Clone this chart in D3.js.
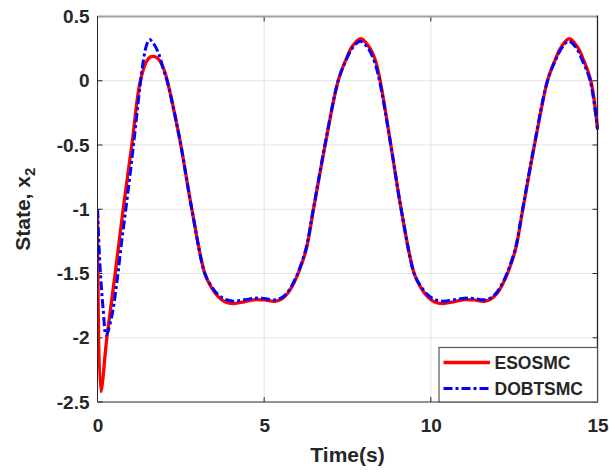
<!DOCTYPE html>
<html><head><meta charset="utf-8">
<script src="https://cdn.jsdelivr.net/npm/d3@7"></script>
<style>body{margin:0;background:#fff}svg{display:block}text{font-family:"Liberation Sans",Arial,sans-serif;font-weight:bold;fill:#262626}</style>
</head><body><svg id="c" width="611" height="475"></svg>
<script>
const xTicks = [0, 5, 10, 15];
const yTicks = [0.5, 0, -0.5, -1, -1.5, -2, -2.5];
const yTickLabels = ["0.5", "0", "-0.5", "-1", "-1.5", "-2", "-2.5"];
const seriesNames = ["ESOSMC", "DOBTSMC"];

const esoT = [0,0.1,0.28,0.53,0.77,1.03,1.27,1.47,1.58,1.68,1.78,1.88,2.03,2.13,2.3,2.5,2.83,3.22,3.42,3.62,3.82,4.08,4.4,4.73,5.0,5.33,5.52,5.72,5.88,6.02,6.26,6.48,6.83,7.22,7.45,7.65,7.9,8.13,8.33,8.48,8.8,9.11,9.5,9.7,9.9,10.1,10.36,10.68,11.01,11.28,11.61,11.8,12.0,12.16,12.30,12.54,12.76,13.11,13.5,13.73,13.93,14.15,14.38,14.58,14.8,15.0];
const esoV = [-1.0,-2.42,-2.0,-1.5,-1.0,-0.5,-0.02,0.15,0.185,0.19,0.18,0.15,0.06,-0.04,-0.24,-0.5,-1.0,-1.5,-1.61,-1.68,-1.72,-1.734,-1.72,-1.703,-1.706,-1.716,-1.70,-1.65,-1.58,-1.5,-1.314,-1.0,-0.5,0.0,0.163,0.27,0.327,0.27,0.163,0.0,-0.5,-1.0,-1.5,-1.61,-1.68,-1.72,-1.734,-1.72,-1.703,-1.706,-1.716,-1.70,-1.65,-1.58,-1.5,-1.314,-1.0,-0.5,0.0,0.163,0.27,0.327,0.27,0.163,0.0,-0.37];

const dobT = [0,0.075,0.17,0.26,0.43,0.58,0.73,0.85,1.08,1.275,1.38,1.46,1.56,1.68,1.83,1.98,2.1,2.3,2.5,2.83,3.22,3.42,3.62,3.82,4.08,4.4,4.73,5.0,5.33,5.52,5.72,5.88,6.02,6.26,6.48,6.83,7.22,7.45,7.65,7.88,8.1,8.3,8.46,8.8,9.11,9.5,9.7,9.9,10.1,10.36,10.68,11.01,11.28,11.61,11.8,12.0,12.16,12.30,12.54,12.76,13.11,13.5,13.73,13.93,14.13,14.35,14.55,14.78,15.0];
const dobV = [-1.0,-1.44,-1.78,-1.98,-1.83,-1.57,-1.24,-1.0,-0.5,-0.04,0.163,0.267,0.32,0.29,0.215,0.086,-0.01,-0.24,-0.5,-1.0,-1.5,-1.6,-1.665,-1.70,-1.715,-1.705,-1.692,-1.695,-1.705,-1.69,-1.64,-1.57,-1.49,-1.30,-0.99,-0.49,0.0,0.155,0.255,0.308,0.26,0.155,0.0,-0.5,-1.0,-1.5,-1.6,-1.665,-1.70,-1.715,-1.705,-1.692,-1.695,-1.705,-1.69,-1.64,-1.57,-1.49,-1.30,-0.99,-0.49,0.0,0.155,0.255,0.308,0.26,0.155,0.0,-0.38];

const m = {l: 97.5, r: 597.5, t: 16.5, b: 402};
const svg = d3.select("#c");
const x = d3.scaleLinear().domain([0, 15]).range([m.l, m.r]);
const y = d3.scaleLinear().domain([-2.5, 0.5]).range([m.b, m.t]);

// grid
const g = svg.append("g");
g.selectAll(".gx").data(xTicks.slice(1, -1)).join("line")
  .attr("x1", d => x(d)).attr("x2", d => x(d)).attr("y1", m.t).attr("y2", m.b)
  .attr("stroke", "#e3e3e3").attr("stroke-width", 1);
g.selectAll(".gy").data(yTicks.slice(1, -1)).join("line")
  .attr("y1", d => y(d)).attr("y2", d => y(d)).attr("x1", m.l).attr("x2", m.r)
  .attr("stroke", "#e3e3e3").attr("stroke-width", 1);

// axes
const ax = d3.axisBottom(x).tickValues(xTicks).tickSize(0).tickPadding(17).tickFormat(d3.format("d"));
const axG = svg.append("g").attr("transform", `translate(0,${m.b})`).call(ax);
axG.select(".domain").remove();
axG.selectAll("text").attr("font-size", 19).attr("fill", "#262626").attr("font-family", "Liberation Sans, Arial, sans-serif").attr("font-weight", "bold");

const ay = d3.axisLeft(y).tickValues(yTicks).tickSize(0).tickPadding(8).tickFormat((d, i) => yTickLabels[i]);
const ayG = svg.append("g").attr("transform", `translate(${m.l},0)`).call(ay);
ayG.select(".domain").remove();
ayG.selectAll("text").attr("font-size", 19).attr("fill", "#262626").attr("font-family", "Liberation Sans, Arial, sans-serif").attr("font-weight", "bold");

// inward ticks
const tk = svg.append("g").attr("stroke", "#262626").attr("stroke-width", 1);
xTicks.forEach(d => {
  tk.append("line").attr("x1", x(d)).attr("x2", x(d)).attr("y1", m.b).attr("y2", m.b - 5);
  tk.append("line").attr("x1", x(d)).attr("x2", x(d)).attr("y1", m.t).attr("y2", m.t + 5);
});
yTicks.forEach(d => {
  tk.append("line").attr("y1", y(d)).attr("y2", y(d)).attr("x1", m.l).attr("x2", m.l + 5);
  tk.append("line").attr("y1", y(d)).attr("y2", y(d)).attr("x1", m.r).attr("x2", m.r - 5);
});

// lines
svg.append("clipPath").attr("id", "clip").append("rect")
  .attr("x", m.l).attr("y", m.t - 4).attr("width", m.r - m.l + 2).attr("height", m.b - m.t + 4);
const line = d3.line().x(d => x(d[0])).y(d => y(d[1])).curve(d3.curveCatmullRom.alpha(0.5));
const esoData = esoT.map((t, i) => [t, esoV[i]]);
const dobData = dobT.map((t, i) => [t, dobV[i]]);
const lg = svg.append("g").attr("clip-path", "url(#clip)");
lg.append("path").datum(esoData).attr("d", line).attr("fill", "none")
  .attr("stroke", "#ff0000").attr("stroke-width", 3.3).attr("stroke-linejoin", "round");
lg.append("path").datum(dobData).attr("d", line).attr("fill", "none")
  .attr("stroke", "#0000ff").attr("stroke-width", 3).attr("stroke-dasharray", "9,3,3,3");

// box
svg.append("line").attr("x1", m.l).attr("x2", m.r).attr("y1", m.t).attr("y2", m.t).attr("stroke", "#a0a0a0").attr("stroke-width", 2);
svg.append("line").attr("x1", m.l).attr("x2", m.l).attr("y1", m.t).attr("y2", m.b).attr("stroke", "#262626").attr("stroke-width", 1);
svg.append("line").attr("x1", m.r).attr("x2", m.r).attr("y1", m.t - 1).attr("y2", m.b).attr("stroke", "#262626").attr("stroke-width", 1.3);
svg.append("line").attr("x1", m.l).attr("x2", m.r).attr("y1", m.b).attr("y2", m.b).attr("stroke", "#262626").attr("stroke-width", 1.2);

// legend
const leg = svg.append("g");
leg.append("rect").attr("x", 439).attr("y", 347.5).attr("width", 158.5).attr("height", 54.5)
  .attr("fill", "#fff").attr("stroke", "#555").attr("stroke-width", 1.2);
const legColors = ["#ff0000", "#0000ff"];
const legDash = [null, "9,3,3,3"];
seriesNames.forEach((n, i) => {
  const yy = 362.5 + i * 26;
  leg.append("line").attr("x1", 443.5).attr("x2", 490).attr("y1", yy).attr("y2", yy)
    .attr("stroke", legColors[i]).attr("stroke-width", i ? 3 : 3.3).attr("stroke-dasharray", legDash[i]);
  leg.append("text").attr("x", 494.5).attr("y", yy).attr("dy", "0.36em").attr("font-size", 17.5).text(n);
});

// axis labels
svg.append("text").attr("x", (m.l + m.r) / 2).attr("y", 461.5).attr("text-anchor", "middle").attr("font-size", 21).text("Time(s)");
const yl = svg.append("text").attr("transform", `translate(30,${(m.t + m.b) / 2}) rotate(-90)`).attr("text-anchor", "middle").attr("font-size", 21);
yl.append("tspan").text("State, x");
yl.append("tspan").attr("font-size", 15).attr("dy", 5).text("2");
</script></body></html>
